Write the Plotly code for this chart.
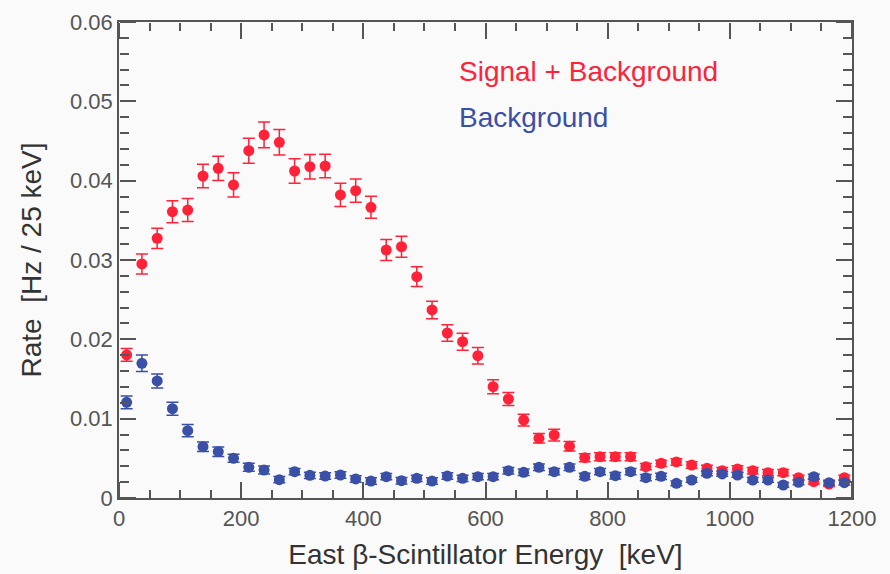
import plotly.graph_objects as go

energy = [12.5 + 25 * i for i in range(48)]

sig_bkg = [0.01803, 0.0295, 0.03273, 0.03609, 0.0363, 0.04059, 0.04156, 0.03946,
           0.04378, 0.04576, 0.04484, 0.04122, 0.04176, 0.04185, 0.0382, 0.03874,
           0.03664, 0.03126, 0.03168, 0.0279, 0.0237, 0.0208, 0.0197, 0.01794,
           0.01403, 0.01248, 0.00983, 0.00752, 0.00794, 0.00651, 0.00508, 0.00521,
           0.00521, 0.00521, 0.00395, 0.00437, 0.00454, 0.00416, 0.00374, 0.00344,
           0.00366, 0.00344, 0.00319, 0.00319, 0.00256, 0.00206, 0.00176, 0.00256]
sig_bkg_err = [0.0008, 0.00126, 0.00128, 0.00139, 0.00145, 0.00149, 0.00153, 0.00153,
               0.00158, 0.00162, 0.0016, 0.00153, 0.00155, 0.00147, 0.00147, 0.00147,
               0.00139, 0.00132, 0.00132, 0.00124, 0.00111, 0.00103, 0.00107, 0.00104,
               0.00088, 0.00082, 0.00074, 0.0006, 0.00074, 0.0006, 0.0005, 0.0005,
               0.0005, 0.0005, 0.0004, 0.0004, 0.0004, 0.0004, 0.0004, 0.0004,
               0.0004, 0.0004, 0.0004, 0.0004, 0.0003, 0.0003, 0.0003, 0.0003]

bkg = [0.01206, 0.01698, 0.01475, 0.01126, 0.00849, 0.00647, 0.00584, 0.005,
       0.00387, 0.00353, 0.00231, 0.00332, 0.00286, 0.00277, 0.0029, 0.0024,
       0.00214, 0.00269, 0.00218, 0.00248, 0.00214, 0.00277, 0.00248, 0.00269,
       0.00269, 0.00344, 0.00324, 0.00387, 0.00332, 0.00387, 0.00273, 0.00332,
       0.00281, 0.00332, 0.00256, 0.00273, 0.00185, 0.00227, 0.00311, 0.00303,
       0.0029, 0.00227, 0.00227, 0.00164, 0.00198, 0.00269, 0.00193, 0.00193]
bkg_err = [0.0008, 0.00105, 0.00088, 0.00082, 0.00078, 0.0006, 0.0006, 0.0005,
           0.0005, 0.0005, 0.0004, 0.0004, 0.0004, 0.0004, 0.0004, 0.0004,
           0.0004, 0.0004, 0.0004, 0.0004, 0.0004, 0.0004, 0.0004, 0.0004,
           0.0004, 0.0004, 0.0004, 0.0004, 0.0004, 0.0004, 0.0004, 0.0004,
           0.0004, 0.0004, 0.0004, 0.0004, 0.0003, 0.0003, 0.0003, 0.0003,
           0.0003, 0.0003, 0.0003, 0.0003, 0.0003, 0.0003, 0.0003, 0.0003]

RED = "#ff2238"
BLUE = "#3a4fa6"
FONT = "Liberation Sans, Arial, sans-serif"
AXC = "#555555"
X_RANGE = [0, 1200]
Y_RANGE = [0, 0.06]

fig = go.Figure()
fig.add_trace(go.Scatter(
    x=energy, y=sig_bkg, mode="markers", name="Signal + Background",
    marker=dict(color=RED, size=11),
    error_y=dict(type="data", array=sig_bkg_err, color=RED, thickness=1.5, width=6),
))
fig.add_trace(go.Scatter(
    x=energy, y=bkg, mode="markers", name="Background",
    marker=dict(color=BLUE, size=11),
    error_y=dict(type="data", array=bkg_err, color=BLUE, thickness=1.5, width=6),
))
# invisible traces anchoring the tick-mark axes
for k in (2, 3, 4, 5):
    fig.add_trace(go.Scatter(
        x=energy, y=bkg, mode="markers", xaxis=f"x{k}", yaxis=f"y{k}",
        marker=dict(opacity=0), hoverinfo="skip", showlegend=False,
    ))


def tick_x(dtick, length, side, pos):
    # outside ticks of a free axis placed on the opposite edge point into the plot
    return dict(range=X_RANGE, dtick=dtick, tick0=0, ticks="outside", ticklen=length,
                tickwidth=1.5, tickcolor=AXC, showticklabels=False, showgrid=False,
                zeroline=False, showline=False, overlaying="x", side=side,
                anchor="free", position=pos)


def tick_y(dtick, length, side, pos):
    return dict(range=Y_RANGE, dtick=dtick, tick0=0, ticks="outside", ticklen=length,
                tickwidth=1.5, tickcolor=AXC, showticklabels=False, showgrid=False,
                zeroline=False, showline=False, overlaying="y", side=side,
                anchor="free", position=pos)


fig.update_layout(
    template="none",
    xaxis=dict(
        range=X_RANGE, dtick=200,
        showline=True, linecolor=AXC, linewidth=1.5, mirror=True,
        ticks="", showgrid=False, zeroline=False,
        tickfont=dict(family=FONT, size=22, color="#555555"),
        title=dict(text="East β-Scintillator Energy  [keV]", standoff=14,
                   font=dict(family=FONT, size=28, color="#333333")),
    ),
    yaxis=dict(
        range=Y_RANGE, dtick=0.01,
        showline=True, linecolor=AXC, linewidth=1.5, mirror=True,
        ticks="", showgrid=False, zeroline=False,
        tickfont=dict(family=FONT, size=22, color="#555555"),
        title=dict(text="Rate  [Hz / 25 keV]", standoff=20,
                   font=dict(family=FONT, size=28, color="#333333")),
    ),
    # bottom edge ticks (pointing up) and top edge ticks (pointing down)
    xaxis2=tick_x(200, 16, "top", 0),
    xaxis3=tick_x(50, 8, "top", 0),
    xaxis4=tick_x(200, 16, "bottom", 1),
    xaxis5=tick_x(50, 8, "bottom", 1),
    # left edge ticks (pointing right) and right edge ticks (pointing left)
    yaxis2=tick_y(0.01, 16, "right", 0),
    yaxis3=tick_y(0.002, 9, "right", 0),
    yaxis4=tick_y(0.01, 16, "left", 1),
    yaxis5=tick_y(0.002, 9, "left", 1),
    width=890, height=574,
    margin=dict(l=119, r=38, t=22, b=76),
    paper_bgcolor="#fafafa", plot_bgcolor="#fafafa",
    showlegend=False,
    font=dict(family=FONT),
)

fig.add_annotation(x=553, y=0.0537, xref="x", yref="y", text="Signal + Background",
                   showarrow=False, xanchor="left", yanchor="middle",
                   font=dict(family=FONT, size=28, color=RED))
fig.add_annotation(x=553, y=0.048, xref="x", yref="y", text="Background",
                   showarrow=False, xanchor="left", yanchor="middle",
                   font=dict(family=FONT, size=28, color=BLUE))

fig.write_html("out.html")
